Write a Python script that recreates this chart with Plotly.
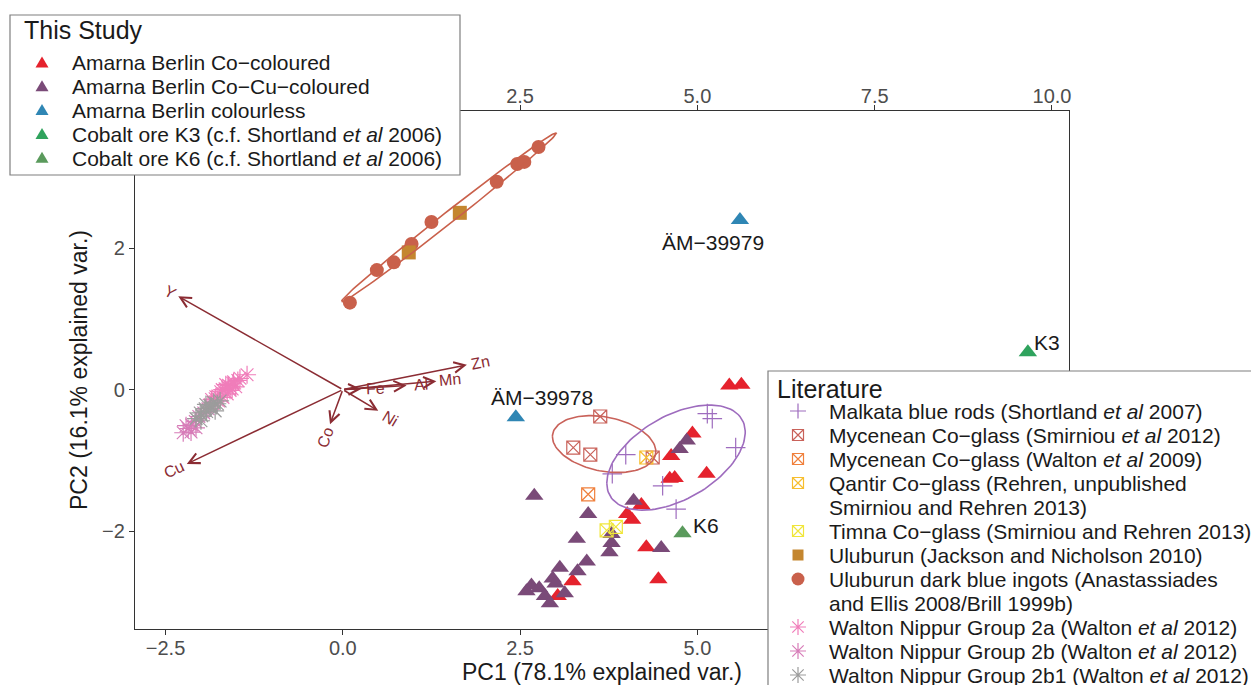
import numpy as np
import plotly.graph_objects as go

# ---------------- data (PC scores) ----------------
co_x = [5.45, 5.62, 4.93, 4.63, 5.13, 4.61, 4.68, 4.21, 4.01, 4.08, 4.28, 4.45, 3.24, 3.03]
co_y = [0.06, 0.07, -0.62, -0.94, -1.19, -1.26, -1.25, -1.63, -1.76, -1.84, -2.23, -2.68, -2.71, -2.92]

cocu_x = [4.85, 4.75, 4.10, 2.70, 3.46, 3.30, 3.79, 3.79, 3.76, 4.49, 3.44, 3.06, 3.31,
          2.96, 2.66, 2.77, 3.13, 2.85, 2.92, 2.59, 3.00]
cocu_y = [-0.72, -0.84, -1.57, -1.50, -1.76, -2.11, -2.04, -2.17, -2.30, -2.24, -2.43, -2.52, -2.57,
          -2.67, -2.77, -2.81, -2.88, -2.92, -3.02, -2.85, -2.74]

colourless_x = [2.44, 5.60]
colourless_y = [-0.39, 2.40]
colourless_lab = ["ÄM−39978", "ÄM−39979"]

k3_x = [9.66]
k3_y = [0.53]
k3_lab = ["K3"]
k6_x = [4.79]
k6_y = [-2.03]
k6_lab = ["K6"]

malkata_x = [5.14, 5.21, 3.99, 3.80, 4.51, 5.54, 4.70]
malkata_y = [-0.34, -0.41, -0.92, -1.19, -1.36, -0.82, -1.69]

smirniou_x = [3.63, 3.25, 3.49, 4.37]
smirniou_y = [-0.38, -0.82, -0.92, -0.96]

walton_myc_x = [3.46]
walton_myc_y = [-1.48]

qantir_x = [4.28]
qantir_y = [-0.96]

timna_x = [3.72, 3.85]
timna_y = [-1.99, -1.94]

uluburun_x = [0.93, 1.65]
uluburun_y = [1.94, 2.50]

ingots_x = [0.10, 0.48, 0.72, 0.97, 1.25, 2.17, 2.46, 2.56, 2.76]
ingots_y = [1.23, 1.69, 1.80, 2.06, 2.37, 2.94, 3.19, 3.22, 3.43]

w2a_x = [-1.35, -1.48, -1.55, -1.61, -1.51, -1.66, -1.59, -1.72, -1.63, -1.76, -1.69, -1.56,
         -1.80, -1.83, -1.75, -1.65, -1.70, -1.79, -1.87, -1.45, -1.54, -1.62, -1.85]
w2a_y = [0.21, 0.13, 0.09, 0.06, 0.04, 0.01, -0.01, -0.03, -0.06, -0.09, -0.11, 0.01,
         -0.13, -0.18, -0.16, 0.07, 0.00, -0.10, -0.21, 0.16, 0.11, 0.03, -0.14]

w2b_x = [-2.25, -2.18, -2.13, -2.21, -2.08, -2.14, -2.03, -1.96, -2.07, -1.90]
w2b_y = [-0.61, -0.55, -0.50, -0.51, -0.45, -0.60, -0.38, -0.33, -0.54, -0.27]

w2b1_x = [-2.01, -1.94, -1.87, -1.82, -1.99, -1.92, -1.86, -1.77, -2.07, -1.93, -1.73, -2.00, -1.80]
w2b1_y = [-0.33, -0.27, -0.23, -0.18, -0.37, -0.31, -0.26, -0.20, -0.41, -0.21, -0.16, -0.44, -0.30]

# variable loadings (biplot arrows)
var_names = ["Y", "Cu", "Zn", "Mn", "Al", "Fe", "Ni", "Co"]
var_x = [-2.32, -2.20, 1.75, 1.32, 0.90, 0.26, 0.50, -0.18]
var_y = [1.32, -1.05, 0.35, 0.12, 0.06, 0.01, -0.30, -0.49]

x_ticks = [-2.5, 0.0, 2.5, 5.0, 7.5, 10.0]
x_ticktext_bottom = ["−2.5", "0.0", "2.5", "5.0", "", ""]      # 7.5 / 10.0 lie under the legend
x_ticktext_top = ["", "", "2.5", "5.0", "7.5", "10.0"]          # −2.5 / 0.0 lie under the legend
y_ticks = [-2, 0, 2]
y_ticktext = ["−2", "0", "2"]

x_title = "PC1 (78.1% explained var.)"
y_title = "PC2 (16.1% explained var.)"

study_title = "This Study"
study_names = [
    "Amarna Berlin Co−coloured",
    "Amarna Berlin Co−Cu−coloured",
    "Amarna Berlin colourless",
    "Cobalt ore K3 (c.f. Shortland <i>et al</i> 2006)",
    "Cobalt ore K6 (c.f. Shortland <i>et al</i> 2006)",
]
lit_title = "Literature"
lit_names = [
    "Malkata blue rods (Shortland <i>et al</i> 2007)",
    "Mycenean Co−glass (Smirniou <i>et al</i> 2012)",
    "Mycenean Co−glass (Walton <i>et al</i> 2009)",
    "Qantir Co−glass (Rehren, unpublished<br>Smirniou and Rehren 2013)",
    "Timna Co−glass (Smirniou and Rehren 2013)",
    "Uluburun (Jackson and Nicholson 2010)",
    "Uluburun dark blue ingots (Anastassiades<br>and Ellis 2008/Brill 1999b)",
    "Walton Nippur Group 2a (Walton <i>et al</i> 2012)",
    "Walton Nippur Group 2b (Walton <i>et al</i> 2012)",
    "Walton Nippur Group 2b1 (Walton <i>et al</i> 2012)",
]

# ---------------- styles ----------------
FONT = "Liberation Sans, Arial, Helvetica, sans-serif"
C_RED = "#E5222D"
C_PURPLE = "#7A4A78"
C_BLUE = "#2F86B4"
C_K3 = "#2FA35D"
C_K6 = "#5A9A5C"
C_MALK = "#9E6CBE"
C_SMIR = "#C9625A"
C_WMYC = "#F0803C"
C_QANT = "#F7BE2E"
C_TIMNA = "#F0E63A"
C_ULU = "#C4862F"
C_ING = "#C9604B"
C_W2A = "#F07DBA"
C_W2B = "#D77CB8"
C_W2B1 = "#9C9C9C"
C_ARROW = "#8B2C33"
C_TEXT = "#1A1A1A"
C_TICK = "#4D4D4D"
C_AXIS = "#333333"

W, H = 1251, 685
ML, MR, MT, MB = 135, 182, 111, 56
PW, PH = W - ML - MR, H - MT - MB
XR = [-2.93, 10.24]
YR = [-3.385, 3.94]
SX = PW / (XR[1] - XR[0])
SY = PH / (YR[1] - YR[0])


def pxx(v):
    return (v - ML) / PW


def pyy(v):
    return (H - MB - v) / PH


def ellipse(xs, ys, prob=0.68, n=120):
    pts = np.column_stack([xs, ys])
    mu = pts.mean(axis=0)
    sigma = np.cov(pts, rowvar=False)
    ed = np.sqrt(-2.0 * np.log(1.0 - prob))
    th = np.linspace(-np.pi, np.pi, n)
    circ = np.column_stack([np.cos(th), np.sin(th)])
    U = np.linalg.cholesky(sigma).T
    e = circ @ U * ed + mu
    return e[:, 0], e[:, 1]


fig = go.Figure()


def add_pts(x, y, name, symbol, color, size, lw=0.0, xaxis="x"):
    fig.add_trace(go.Scatter(
        x=x, y=y, mode="markers", name=name, showlegend=False, xaxis=xaxis, yaxis="y",
        marker=dict(symbol=symbol, color=color, size=size,
                    line=dict(width=lw, color=color)),
        hoverinfo="skip"))


add_pts(w2b_x, w2b_y, "2b", "asterisk-open", C_W2B, 15, 1.2)
add_pts(w2a_x, w2a_y, "2a", "asterisk-open", C_W2A, 15, 1.2)
add_pts(w2b1_x, w2b1_y, "2b1", "asterisk-open", C_W2B1, 15, 1.2)
add_pts(ingots_x, ingots_y, "ingots", "circle", C_ING, 14)
add_pts(uluburun_x, uluburun_y, "uluburun", "square", C_ULU, 14)
add_pts(co_x, co_y, "co", "triangle-up", C_RED, 16)
add_pts(cocu_x, cocu_y, "cocu", "triangle-up", C_PURPLE, 16)
add_pts(colourless_x, colourless_y, "colourless", "triangle-up", C_BLUE, 16)
add_pts(k3_x, k3_y, "K3", "triangle-up", C_K3, 16, xaxis="x2")
add_pts(k6_x, k6_y, "K6", "triangle-up", C_K6, 16)
add_pts(smirniou_x, smirniou_y, "smir", "square-x-open", C_SMIR, 13, 1.2)
add_pts(walton_myc_x, walton_myc_y, "wmyc", "square-x-open", C_WMYC, 13, 1.2)
add_pts(qantir_x, qantir_y, "qantir", "square-x-open", C_QANT, 13, 1.2)
add_pts(timna_x, timna_y, "timna", "square-x-open", C_TIMNA, 13, 1.2)
add_pts(malkata_x, malkata_y, "malkata", "cross-thin-open", C_MALK, 14, 1.2)

for xs, ys, col in [(ingots_x, ingots_y, C_ING), (smirniou_x, smirniou_y, C_SMIR),
                    (malkata_x, malkata_y, C_MALK)]:
    ex, ey = ellipse(xs, ys)
    fig.add_trace(go.Scatter(x=ex, y=ey, mode="lines", showlegend=False, hoverinfo="skip",
                             line=dict(color=col, width=1.6)))

annotations = []
# biplot arrows
for name, vx, vy in zip(var_names, var_x, var_y):
    annotations.append(dict(x=vx, y=vy, ax=0, ay=0, xref="x", yref="y", axref="x", ayref="y",
                            text="", showarrow=True, arrowhead=5, arrowsize=1.4, arrowwidth=1.5,
                            arrowcolor=C_ARROW, standoff=0, startstandoff=0))
    dx, dy = vx * SX, vy * SY
    nrm = np.hypot(dx, dy)
    off = 3 + 5.5 * len(name)
    ang = -np.degrees(np.arctan(vy / vx))
    annotations.append(dict(x=vx, y=vy, xref="x", yref="y", text=name, showarrow=False,
                            xshift=dx / nrm * off, yshift=dy / nrm * off, textangle=ang,
                            font=dict(family=FONT, size=16, color=C_ARROW)))

# point labels
lab_shift = [(26, 20), (-27, -23)]
for (x, y, t), (sx, sy) in zip(zip(colourless_x, colourless_y, colourless_lab), lab_shift):
    annotations.append(dict(x=x, y=y, xref="x", yref="y", text=t, showarrow=False,
                            xshift=sx, yshift=sy, font=dict(family=FONT, size=21, color=C_TEXT)))
for x, y, t in zip(k3_x, k3_y, k3_lab):
    annotations.append(dict(x=x, y=y, xref="x", yref="y", text=t, showarrow=False,
                            xshift=19, yshift=10, font=dict(family=FONT, size=21, color=C_TEXT)))
for x, y, t in zip(k6_x, k6_y, k6_lab):
    annotations.append(dict(x=x, y=y, xref="x", yref="y", text=t, showarrow=False,
                            xshift=24, yshift=8, font=dict(family=FONT, size=21, color=C_TEXT)))

# ---------------- legends (drawn boxes, keys and text) ----------------
shapes = []

TRI = "M-6.5,-4.5 L6.5,-4.5 L0,6.5 Z"
SQX = "M-5.5,-5.5 H5.5 V5.5 H-5.5 Z M-5.5,-5.5 L5.5,5.5 M-5.5,5.5 L5.5,-5.5"
SQ = "M-5.5,-5.5 H5.5 V5.5 H-5.5 Z"
CROSS = "M-8,0 H8 M0,-7.5 V7.5"
AST = "M-8,0 H8 M0,-8 V8 M-5.7,-5.7 L5.7,5.7 M-5.7,5.7 L5.7,-5.7"


def key(kind, color, cx, cy):
    base = dict(xref="paper", yref="paper", xsizemode="pixel", ysizemode="pixel",
                xanchor=pxx(cx), yanchor=pyy(cy), layer="above")
    if kind == "circle":
        base.update(type="circle", x0=-6.5, x1=6.5, y0=-6.5, y1=6.5, fillcolor=color,
                    line=dict(width=0, color=color))
    elif kind in ("tri", "sq"):
        base.update(type="path", path=TRI if kind == "tri" else SQ, fillcolor=color,
                    line=dict(width=0, color=color))
    else:
        p = {"sqx": SQX, "cross": CROSS, "ast": AST}[kind]
        base.update(type="path", path=p, line=dict(width=1.2, color=color))
    shapes.append(base)


def box(x0, y0, x1, y1):
    shapes.append(dict(type="rect", xref="paper", yref="paper", x0=pxx(x0), x1=pxx(x1),
                       y0=pyy(y1), y1=pyy(y0), fillcolor="white", layer="above",
                       line=dict(color="#7F7F7F", width=1.2)))


def text(t, x, y, size=21):
    annotations.append(dict(xref="paper", yref="paper", x=pxx(x), y=pyy(y), text=t,
                            showarrow=False, xanchor="left", yanchor="middle",
                            font=dict(family=FONT, size=size, color=C_TEXT)))


# This Study legend
box(10, 15, 460, 175)
text(study_title, 22, 30, 25)
study_keys = [("tri", C_RED), ("tri", C_PURPLE), ("tri", C_BLUE), ("tri", C_K3), ("tri", C_K6)]
for i, (nm, (k, c)) in enumerate(zip(study_names, study_keys)):
    yy = 63 + 23.8 * i
    key(k, c, 42, yy)
    text(nm, 70, yy)

# Literature legend
box(768, 371, 1262, 700)
text(lit_title, 775, 389, 25)
lit_keys = [("cross", C_MALK), ("sqx", C_SMIR), ("sqx", C_WMYC), ("sqx", C_QANT), ("sqx", C_TIMNA),
            ("sq", C_ULU), ("circle", C_ING), ("ast", C_W2A), ("ast", C_W2B), ("ast", C_W2B1)]
line = 0
for nm, (k, c) in zip(lit_names, lit_keys):
    parts = nm.split("<br>")
    yy = 411 + 24 * line
    key(k, c, 798, yy)
    for j, p in enumerate(parts):
        text(p, 827, yy + 24 * j)
    line += len(parts)

axis_common = dict(showgrid=False, zeroline=False, showline=True, linecolor=C_AXIS, linewidth=1.3,
                   ticks="outside", ticklen=5, tickwidth=1.3, tickcolor=C_AXIS,
                   tickfont=dict(family=FONT, size=20, color=C_TICK))

fig.update_layout(
    width=W, height=H, margin=dict(l=ML, r=MR, t=MT, b=MB, autoexpand=False),
    paper_bgcolor="white", plot_bgcolor="white", showlegend=False,
    xaxis=dict(range=XR, tickvals=x_ticks, ticktext=x_ticktext_bottom, mirror=False,
               ticklabelstandoff=-4,
               title=dict(text=x_title, font=dict(family=FONT, size=23, color=C_TEXT), standoff=4),
               **axis_common),
    xaxis2=dict(range=XR, matches="x", overlaying="x", side="top", anchor="y",
                tickvals=x_ticks, ticktext=x_ticktext_top, ticklabelstandoff=-6, **axis_common),
    yaxis=dict(range=YR, tickvals=y_ticks, ticktext=y_ticktext, mirror=True,
               title=dict(text=y_title, font=dict(family=FONT, size=23, color=C_TEXT), standoff=7),
               **axis_common),
    annotations=annotations, shapes=shapes,
)

fig.write_html("out.html")
